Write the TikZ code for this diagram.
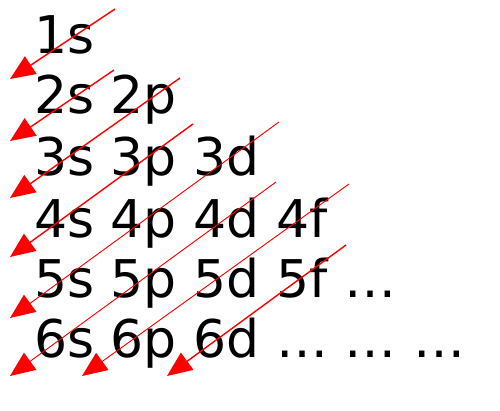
\documentclass[tikz,border=0pt]{standalone}
\usepackage{fontspec}
\setmainfont{DejaVu Sans}
\usetikzlibrary{arrows.meta}
\begin{document}
\begin{tikzpicture}[x=1pt,y=-1pt,
  row/.style={anchor=base west,inner sep=0pt,font=\fontsize{52}{60}\selectfont},
  arr/.style={draw=red,line width=1.4pt,-{Triangle[length=25pt,width=21pt]},fill=red},
  arrthin/.style={arr,line width=0.9pt}]
\useasboundingbox (0,0) rectangle (500,410);
\node[row] (r1) at (34,53) {1s};
\node[row] (r2) at (34,113) {2s 2p};
\node[row] (r3) at (34,175) {3s 3p 3d};
\node[row] (r4) at (34,237) {4s 4p 4d 4f};
\node[row] (r5) at (34,297) {5s 5p 5d 5f …};
\node[row] (r6) at (34,357) {6s 6p 6d … … …};
\coordinate (a1s) at (115,9);   \coordinate (a1e) at (10,79);
\coordinate (a2s) at (114,70);  \coordinate (a2e) at (10,141);
\coordinate (a3s) at (180,78);  \coordinate (a3e) at (10,198);
\coordinate (a4s) at (193,124); \coordinate (a4e) at (10,257);
\coordinate (a5s) at (279,122); \coordinate (a5e) at (10,318);
\coordinate (a6s) at (276,182); \coordinate (a6e) at (10,376);
\coordinate (a7s) at (349,184); \coordinate (a7e) at (82,376);
\coordinate (a8s) at (346,245); \coordinate (a8e) at (167,376);
\draw[arr] (a1s) -- (a1e);
\draw[arr] (a2s) -- (a2e);
\draw[arr] (a3s) -- (a3e);
\draw[arr] (a4s) -- (a4e);
\draw[arrthin] (a5s) -- (a5e);
\draw[arrthin] (a6s) -- (a6e);
\draw[arrthin] (a7s) -- (a7e);
\draw[arr] (a8s) -- (a8e);
\end{tikzpicture}
\end{document}
